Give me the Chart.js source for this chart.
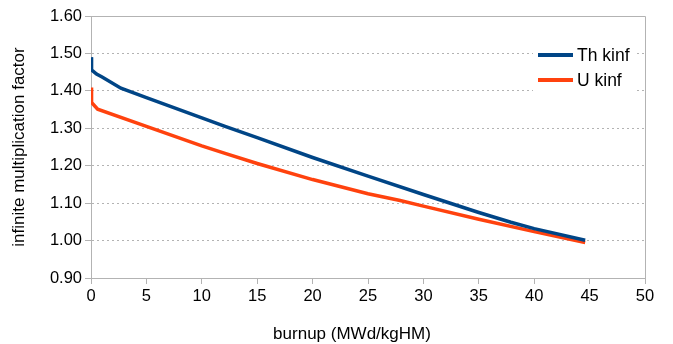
<!DOCTYPE html>
<html>
<head>
<meta charset="utf-8">
<script src="https://cdn.jsdelivr.net/npm/chart.js@4/dist/chart.umd.min.js"></script>
<style>
  html, body { margin: 0; padding: 0; background: #fff; }
  #wrap { width: 673px; height: 344px; }
</style>
</head>
<body>
<div id="wrap"><canvas id="kinfChart"></canvas></div>
<script>
const seriesNames = ['Th kinf', 'U kinf'];
const xTitle = 'burnup (MWd/kgHM)';
const yTitle = 'infinite multiplication factor';

const thBurnup = [0, 0.05, 0.5, 1, 2.7, 5, 10, 12.1, 15, 20, 25, 30, 35, 37.9, 40, 44.6];
const thKinf = [1.490, 1.456, 1.445, 1.437, 1.407, 1.382, 1.328, 1.305, 1.275, 1.222, 1.172, 1.123, 1.075, 1.049, 1.032, 1.001];

const uBurnup = [0, 0.05, 0.6, 5, 10, 12.1, 15, 20, 25, 27.9, 30, 35, 40, 44.6];
const uKinf = [1.409, 1.369, 1.351, 1.305, 1.253, 1.233, 1.206, 1.163, 1.125, 1.107, 1.092, 1.057, 1.024, 0.995];

const xTicks = [0, 5, 10, 15, 20, 25, 30, 35, 40, 45, 50];
const yTicks = [0.90, 1.00, 1.10, 1.20, 1.30, 1.40, 1.50, 1.60];

const toPoints = (xs, ys) => xs.map((x, i) => ({ x: x, y: ys[i] }));

const gridGrey = '#b3b3b3';
const fontFamily = "'Liberation Sans', Arial, sans-serif";

// top/right frame, x axis title and the legend box, like the office chart
const framePlugin = {
    id: 'frame',
    afterDraw(chart) {
        const ctx = chart.ctx;
        const area = chart.chartArea;
        ctx.save();
        ctx.strokeStyle = gridGrey;
        ctx.lineWidth = 1;
        ctx.beginPath();
        ctx.moveTo(area.left, area.top + 0.5);
        ctx.lineTo(area.right + 0.5, area.top + 0.5);
        ctx.lineTo(area.right + 0.5, area.bottom);
        ctx.stroke();

        ctx.fillStyle = '#000';
        ctx.font = '17px ' + fontFamily;
        ctx.textAlign = 'center';
        ctx.textBaseline = 'alphabetic';
        ctx.fillText(xTitle, 352, 339);

        ctx.fillStyle = '#fff';
        ctx.fillRect(533, 40, 103, 54);

        ctx.font = '17.5px ' + fontFamily;
        ctx.textAlign = 'left';
        ctx.textBaseline = 'middle';
        chart.data.datasets.forEach((ds, i) => {
            const y = 55 + i * 25;
            ctx.strokeStyle = ds.borderColor;
            ctx.lineWidth = 4;
            ctx.beginPath();
            ctx.moveTo(538, y);
            ctx.lineTo(573, y);
            ctx.stroke();
            ctx.fillStyle = '#000';
            ctx.fillText(ds.label, 577, y + 1);
        });
        ctx.restore();
    }
};

new Chart(document.getElementById('kinfChart'), {
    type: 'scatter',
    data: {
        datasets: [{
            label: seriesNames[0],
            data: toPoints(thBurnup, thKinf),
            showLine: true,
            borderColor: '#004586',
            borderWidth: 3.5,
            pointRadius: 0,
            tension: 0
        }, {
            label: seriesNames[1],
            data: toPoints(uBurnup, uKinf),
            showLine: true,
            borderColor: '#ff420e',
            borderWidth: 3.5,
            pointRadius: 0,
            tension: 0
        }]
    },
    options: {
        responsive: true,
        maintainAspectRatio: false,
        animation: false,
        layout: { padding: { left: 0, right: 28, top: 16, bottom: 0 } },
        plugins: {
            legend: { display: false },
            tooltip: { enabled: false }
        },
        scales: {
            x: {
                type: 'linear',
                min: 0,
                max: 50,
                afterBuildTicks: (scale) => { scale.ticks = xTicks.map(v => ({ value: v })); },
                afterFit: (scale) => { scale.height = 66; },
                ticks: {
                    color: '#000',
                    font: { family: fontFamily, size: 16.5 },
                    padding: 3,
                    maxRotation: 0
                },
                grid: {
                    drawOnChartArea: false,
                    drawTicks: true,
                    tickLength: 6,
                    tickColor: gridGrey
                },
                border: { color: gridGrey, width: 1 }
            },
            y: {
                type: 'linear',
                min: 0.9,
                max: 1.6,
                afterBuildTicks: (scale) => { scale.ticks = yTicks.map(v => ({ value: v })); },
                afterFit: (scale) => { scale.width = 91; },
                ticks: {
                    color: '#000',
                    font: { family: fontFamily, size: 16.5 },
                    padding: 3,
                    callback: (v) => v.toFixed(2)
                },
                grid: {
                    color: gridGrey,
                    lineWidth: 1,
                    drawTicks: true,
                    tickLength: 6,
                    tickColor: gridGrey,
                    tickBorderDash: []
                },
                border: { color: gridGrey, width: 1, dash: [2, 3] },
                title: {
                    display: true,
                    text: yTitle,
                    color: '#000',
                    font: { family: fontFamily, size: 17 },
                    padding: { top: 9, bottom: 4 }
                }
            }
        }
    },
    plugins: [framePlugin]
});
</script>
</body>
</html>
